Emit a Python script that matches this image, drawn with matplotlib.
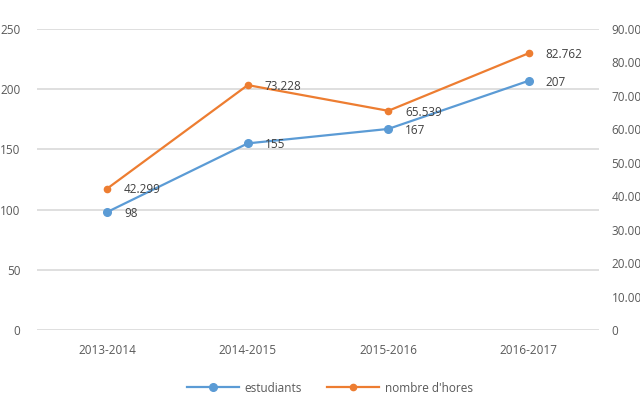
import numpy as np
import matplotlib.pyplot as plt

cursos = ["2013-2014", "2014-2015", "2015-2016", "2016-2017"]
estudiants = [98, 155, 167, 207]
hores = [42299, 73228, 65539, 82762]
etiq_hores = ["42.299", "73.228", "65.539", "82.762"]

blau = "#5B9BD5"
taronja = "#ED7D31"
gris_text = "#595959"
gris_linia = "#D9D9D9"

plt.rcParams["font.family"] = ["Open Sans", "DejaVu Sans"]

fig = plt.figure(figsize=(6.4, 4.01), dpi=100)
ax = fig.add_axes([37 / 640, 1 - 330 / 401, (599 - 37) / 640, (330 - 29) / 401])
ax2 = ax.twinx()

x = np.arange(len(cursos))

ax.set_xlim(-0.5, len(cursos) - 0.5)
ax.set_ylim(0, 250)
ax.set_yticks(range(0, 251, 50))
ax.grid(axis="y", color=gris_linia, linewidth=1.2)
ax.set_axisbelow(True)
ax.set_xticks(x, cursos)

ax2.set_ylim(0, 90000)
ax2.set_yticks(range(0, 90001, 10000))
ax2.set_yticklabels(["0"] + [f"{v // 1000}.000" for v in range(10000, 90001, 10000)])

for a in (ax, ax2):
    for s in a.spines.values():
        s.set_visible(False)
    a.tick_params(length=0, colors=gris_text, labelsize=8.5)
ax.tick_params(axis="y", pad=12)
ax.tick_params(axis="x", pad=10)
ax2.tick_params(axis="y", pad=9)

l1, = ax.plot(x, estudiants, color=blau, lw=1.6, marker="o", ms=5.5, label="estudiants")
l2, = ax2.plot(x, hores, color=taronja, lw=1.6, marker="o", ms=4.5, label="nombre d'hores")

for xi, v in zip(x, estudiants):
    ax.annotate(str(v), (xi, v), xytext=(12, -1), textcoords="offset points",
                va="center", ha="left", fontsize=8.5, color="#404040")
for xi, v, t in zip(x, hores, etiq_hores):
    ax2.annotate(t, (xi, v), xytext=(12, -1), textcoords="offset points",
                 va="center", ha="left", fontsize=8.5, color="#404040")

fig.legend(handles=[l1, l2], loc="center", bbox_to_anchor=(0.515, 1 - 388 / 401),
           ncol=2, frameon=False, fontsize=8.5, labelcolor=gris_text,
           handlelength=4.4, handletextpad=0.5, columnspacing=2.1)

fig.savefig("out.png", dpi=100)
